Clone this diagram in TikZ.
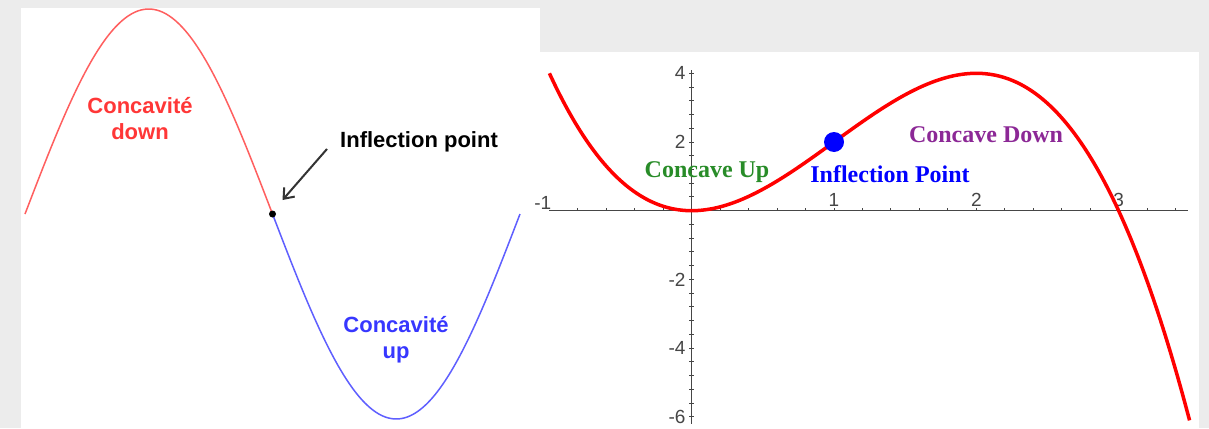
\documentclass[tikz,border=0pt]{standalone}
\usepackage{fontspec}
\setmainfont{Liberation Serif}
\setsansfont{Liberation Sans}
\usepackage{xcolor}
\usepackage{tikz}
\usetikzlibrary{arrows.meta, positioning, calc}
\definecolor{paper}{RGB}{236,236,236}
\definecolor{softred}{RGB}{255,95,95}
\definecolor{softblue}{RGB}{95,95,255}
\definecolor{labelred}{RGB}{255,55,55}
\definecolor{labelblue}{RGB}{55,55,255}
\definecolor{axisgray}{RGB}{70,70,70}
\definecolor{upgreen}{RGB}{40,140,40}
\definecolor{downpurple}{RGB}{140,40,150}

\begin{document}
\begin{tikzpicture}[x=1pt, y=-1pt, every node/.style={inner sep=0pt},
    lefttext/.style={font=\sffamily\bfseries\fontsize{22}{26}\selectfont, align=center},
    righttext/.style={font=\rmfamily\bfseries\fontsize{24}{26}\selectfont, anchor=base},
    ticklabel/.style={font=\sffamily\fontsize{19}{21}\selectfont, text=axisgray},
    axisline/.style={draw=axisgray, line width=1.5pt}]
    \useasboundingbox (0,0) rectangle (1209,428);
    \fill[paper] (0,0) rectangle (1209,428);
    \fill[white] (21,8) rectangle (540,428);
    \fill[white] (540,52) rectangle (1199,428);
    % left panel
    \draw[softred, line width=1.5pt] plot[domain=25:272.5, samples=80, smooth] (\x, {214-205*sin((\x-25)/495*360)});
    \draw[softblue, line width=1.5pt] plot[domain=272.5:520, samples=80, smooth] (\x, {214-205*sin((\x-25)/495*360)});
    \coordinate (ipt) at (272.5,214);
    \fill (ipt) circle (3.5);
    \node[lefttext, text=labelred] (cdown) at (140,119) {Concavité\\down};
    \node[lefttext, text=labelblue] (cup) at (396,340) {Concavité\\up};
    \node[lefttext, anchor=base west] (ilabel) at (340,147) {Inflection point};
    \draw[black!80, line width=2pt, -{Straight Barb[length=9pt, width=14pt]}] ([shift={(-13,2)}]ilabel.base west) -- ([shift={(10,-14)}]ipt);
    % right panel
    \begin{scope}[shift={(691.7,210.7)}, x=142.3pt, y=34.35pt]
      \draw[axisline] (-1,0) -- (3.49,0);
      \draw[axisline] (0,-6.2) -- (0,4.1);
      \foreach \t in {-0.8,-0.6,...,3.41}
        \draw[axisgray, line width=1pt] (\t,0) -- ++(0pt,3pt);
      \foreach \t in {-6,-5.6,...,4.01}
        \draw[axisgray, line width=1pt] (0,\t) ++(-2.5pt,0pt) -- ++(5pt,0pt);
      \foreach \t in {1,2,3}
        \node[ticklabel, anchor=south] (xl\t) at ([yshift=4pt]\t,0) {\t};
      \node[ticklabel, anchor=south east] (xlm) at ([xshift=2pt, yshift=1pt]-1,0) {-1};
      \foreach \t in {4,2,-2,-4,-6}
        \node[ticklabel, anchor=east] (yl\t) at ([xshift=-6pt]0,\t) {\t};
      \draw[red, line width=3.5pt] plot[domain=-1:3.5, samples=100, smooth] (\x, {3*(\x)*(\x)-(\x)*(\x)*(\x)});
      \fill[blue] (1,2) circle (10pt);
    \end{scope}
    \node[righttext, text=upgreen] (cupr) at (707,177) {Concave Up};
    \node[righttext, text=blue] (iptr) at (890,182) {Inflection Point};
    \node[righttext, text=downpurple] (cdownr) at (986,142) {Concave Down};
\end{tikzpicture}
\end{document}
